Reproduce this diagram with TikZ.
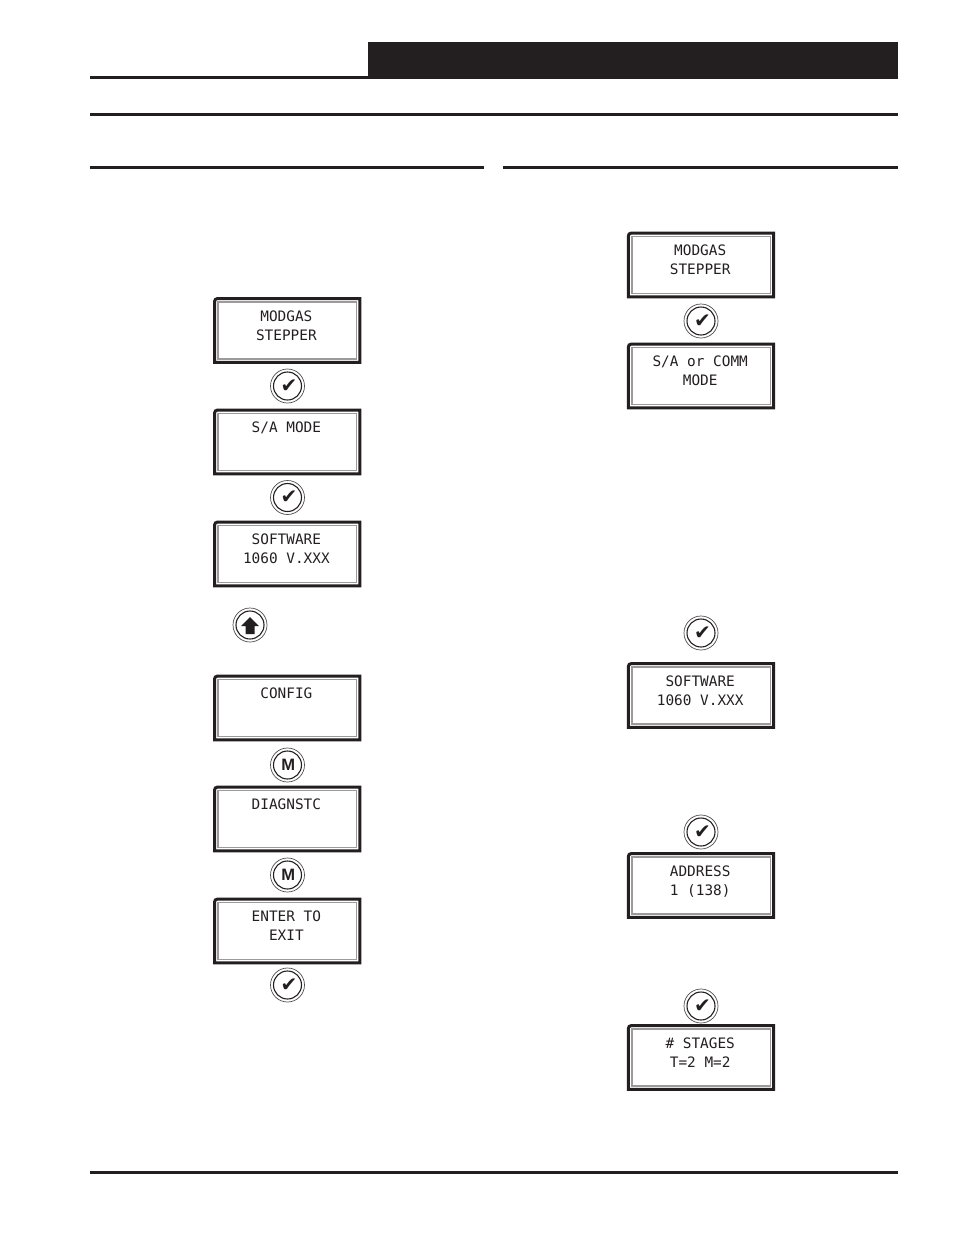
\documentclass[tikz,border=0pt]{standalone}
\usepackage{fontspec}
\setmonofont{DejaVu Sans Mono}
\newfontfamily\symbolfont{DejaVu Sans}
\newfontfamily\keyfont{Liberation Sans}
\usetikzlibrary{positioning}
\definecolor{ink}{HTML}{231F20}
\newcommand{\chkmark}{\symbolfont\fontsize{20}{20}\selectfont\kern3pt ✔}
\newcommand{\modemark}{\keyfont\bfseries\fontsize{16.5}{16.5}\selectfont\kern1.5pt M}
\tikzset{
    rulebar/.style={fill=ink, draw=none},
    dispbox/.style={draw=none, minimum width=145, minimum height=63.5, inner sep=0},
    dispedge/.style={draw=ink, line width=3},
    dispinner/.style={draw=ink!45, line width=1.4},
    disptext/.style={font=\fontsize{14.4}{18.6}\selectfont\ttfamily, text=ink, align=center, inner sep=0},
    keybtn/.style={circle, draw=ink, line width=1.1, minimum size=28, inner sep=0, text=ink},
    keyring/.style={draw=ink!80, line width=.7},
}
\begin{document}
\begin{tikzpicture}[x=1pt,y=-1pt]
    \useasboundingbox (0,0) rectangle (954,1235);

    % Page rules
    \fill[rulebar] (368,42) rectangle (898,79);
    \fill[rulebar] (90,76) rectangle (368,79);
    \fill[rulebar] (90,113) rectangle (898,116);
    \fill[rulebar] (90,166) rectangle (484,169);
    \fill[rulebar] (503,166) rectangle (898,169);
    \fill[rulebar] (90,1171) rectangle (898,1174);

    % Displays
    \foreach \name/\x/\y/\txt in {
        modgasL/287.2/330.5/{MODGAS\\STEPPER},
        samode/287.2/442/{S/A MODE},
        softL/287.2/554/{SOFTWARE\\1060 V.XXX},
        config/287.2/708/{CONFIG},
        diagnstc/287.2/819/{DIAGNSTC},
        enterexit/287.2/931/{ENTER TO\\EXIT},
        modgasR/701/265/{MODGAS\\STEPPER},
        sacomm/701/376/{S/A or COMM\\MODE},
        softR/701/695.5/{SOFTWARE\\1060 V.XXX},
        address/701/885.5/{ADDRESS\\1 (138)},
        stages/701/1057.5/{\# STAGES\\T=2 M=2}} {
        \node[dispbox] (\name) at (\x,\y) {};
        \draw[dispedge] (\name.south west) [rounded corners=3] -- (\name.north west) [sharp corners] -- (\name.north east) -- (\name.south east) -- cycle;
        \draw[dispinner] ([shift={(3.5,3.5)}]\name.north west) rectangle ([shift={(-3.5,-3.5)}]\name.south east);
        \node[disptext, anchor=north] (\name text) at ([xshift=-.8,yshift=-12]\name.north) {\txt};
    }

    % Keys
    \foreach \name/\x/\y/\txt in {
        chkA/287.5/386/{\chkmark},
        chkB/287.5/497.5/{\chkmark},
        modeA/287.5/765/{\modemark},
        modeB/287.5/875/{\modemark},
        chkC/287.5/985/{\chkmark},
        chkD/701/321/{\chkmark},
        chkE/701/633/{\chkmark},
        chkF/701/832/{\chkmark},
        chkG/701/1006/{\chkmark},
        upkey/250/625/{}} {
        \node[keybtn] (\name) at (\x,\y) {\txt};
        \draw[keyring] (\name) circle (17);
    }
    % Up arrow in its key
    \fill[ink] ([shift={(0,-8)}]upkey.center) -- ++(9,9) -- ++(-4.5,0) -- ++(0,8) -- ++(-9,0) -- ++(0,-8) -- ++(-4.5,0) -- cycle;
\end{tikzpicture}
\end{document}
